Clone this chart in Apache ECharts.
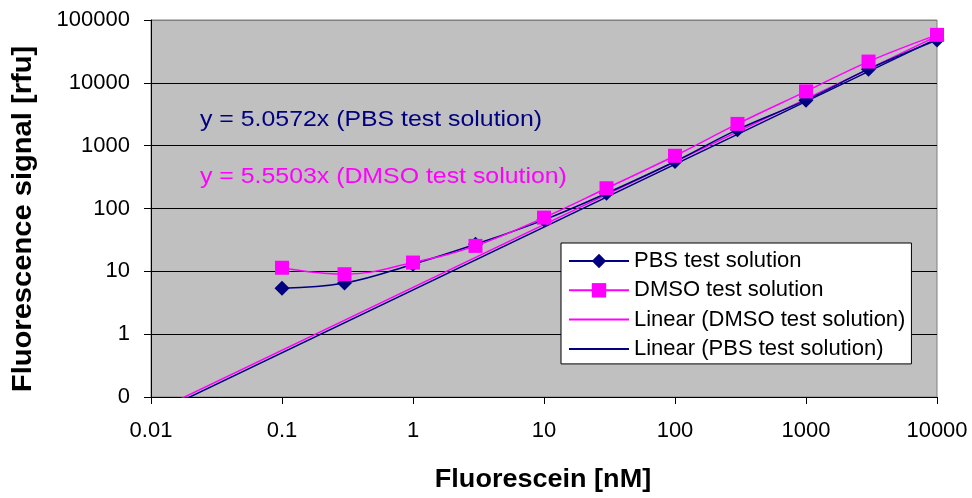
<!DOCTYPE html>
<html>
<head>
<meta charset="utf-8">
<script src="https://cdn.jsdelivr.net/npm/echarts@6/dist/echarts.min.js"></script>
<style>
html,body{margin:0;padding:0;background:#fff;}
#chart{width:972px;height:498px;}
</style>
</head>
<body>
<div id="chart"></div>
<script>
// ---- data ----
var concentrations = [0.1, 0.3, 1, 3, 10, 30, 100, 300, 1000, 3000, 10000];
var pbsSignal  = [5.4, 6.5, 13, 27, 66, 175, 560, 1800, 5300, 16500, 48000];
var dmsoSignal = [11.4, 9.0, 13.8, 25.4, 71.6, 210, 690, 2220, 7300, 21800, 58000];
var pbsSlope = 5.0572;
var dmsoSlope = 5.5503;
var trendRange = [0.01, 10000];
var xTickLabels = ['0.01', '0.1', '1', '10', '100', '1000', '10000'];
var yTickLabels = ['0', '1', '10', '100', '1000', '10000', '100000'];
var seriesNames = ['PBS test solution', 'DMSO test solution', 'Linear (DMSO test solution)', 'Linear (PBS test solution)'];
var equationTexts = ['y = 5.0572x (PBS test solution)', 'y = 5.5503x (DMSO test solution)'];
var xTitle = 'Fluorescein [nM]';
var yTitle = 'Fluorescence signal [rfu]';

var FONT = '"Liberation Sans", Arial, sans-serif';
var NAVY = '#000080', MAG = '#FF00FF';

function pairs(xs, ys) { return xs.map(function (x, i) { return [x, ys[i]]; }); }
function trend(slope) { return trendRange.map(function (x) { return [x, slope * x]; }); }

var chart = echarts.init(document.getElementById('chart'), null, {renderer: 'canvas'});
chart.setOption({
  animation: false,
  backgroundColor: '#fff',
  textStyle: {fontFamily: FONT},
  grid: {
    left: 151, top: 20, right: 35, bottom: 101,
    containLabel: false, outerBoundsMode: 'none',
    show: true, backgroundColor: '#C0C0C0', borderColor: '#808080', borderWidth: 1
  },
  xAxis: {
    type: 'log', logBase: 10, min: 0.01, max: 10000,
    axisLine: {show: true, onZero: false, lineStyle: {color: '#000', width: 1}},
    axisTick: {show: true, inside: false, length: 7, lineStyle: {color: '#000'}},
    axisLabel: {
      fontFamily: FONT, fontSize: 22, color: '#000', margin: 23,
      formatter: function (v) { return xTickLabels[Math.round(Math.log10(v)) + 2]; }
    },
    splitLine: {show: false},
    minorTick: {show: false}
  },
  yAxis: {
    type: 'log', logBase: 10, min: 0.1, max: 100000,
    axisLine: {show: true, lineStyle: {color: '#000', width: 1}},
    axisTick: {show: true, inside: false, length: 7, lineStyle: {color: '#000'}},
    axisLabel: {
      fontFamily: FONT, fontSize: 22, color: '#000', margin: 21,
      formatter: function (v) { return yTickLabels[Math.round(Math.log10(v)) + 1]; }
    },
    splitLine: {show: true, lineStyle: {color: ['#000', '#000', '#000', '#000', '#000', '#000', '#808080'], width: 1}}
  },
  legend: {
    orient: 'vertical', left: 561, top: 243,
    backgroundColor: '#fff', borderColor: '#000', borderWidth: 1,
    padding: [7, 6, 4, 7],
    itemWidth: 60, itemHeight: 18, itemGap: 7.3,
    textStyle: {fontFamily: FONT, fontSize: 22, color: '#000'},
    data: [
      {name: seriesNames[0]},
      {name: seriesNames[1]},
      {name: seriesNames[2], itemStyle: {opacity: 0}},
      {name: seriesNames[3], itemStyle: {opacity: 0}}
    ]
  },
  series: [
    {
      name: seriesNames[3], type: 'line', data: trend(pbsSlope),
      symbol: 'none', lineStyle: {color: NAVY, width: 1.5}, itemStyle: {color: NAVY}, z: 2
    },
    {
      name: seriesNames[2], type: 'line', data: trend(dmsoSlope),
      symbol: 'none', lineStyle: {color: MAG, width: 1.5}, itemStyle: {color: MAG}, z: 2
    },
    {
      name: seriesNames[0], type: 'line', data: pairs(concentrations, pbsSignal),
      smooth: 0.4, symbol: 'diamond', symbolSize: 15,
      lineStyle: {color: NAVY, width: 1.5}, itemStyle: {color: NAVY}, z: 3
    },
    {
      name: seriesNames[1], type: 'line', data: pairs(concentrations, dmsoSignal),
      smooth: 0.4, symbol: 'rect', symbolSize: 14,
      lineStyle: {color: MAG, width: 1.5}, itemStyle: {color: MAG}, z: 4
    }
  ],
  graphic: [
    {type: 'text', x: 200, y: 119.5, scaleX: 1.13, z: 10,
     style: {text: equationTexts[0], fill: NAVY, fontFamily: FONT, fontSize: 22, textAlign: 'left', textVerticalAlign: 'middle'}},
    {type: 'text', x: 200, y: 177, scaleX: 1.13, z: 10,
     style: {text: equationTexts[1], fill: MAG, fontFamily: FONT, fontSize: 22, textAlign: 'left', textVerticalAlign: 'middle'}},
    {type: 'text', x: 543, y: 480, scaleX: 1.04, z: 10,
     style: {text: xTitle, fill: '#000', fontFamily: FONT, fontSize: 26, fontWeight: 'bold', textAlign: 'center', textVerticalAlign: 'middle'}},
    {type: 'text', x: 23, y: 219, rotation: Math.PI / 2, scaleX: 1.04, z: 10,
     style: {text: yTitle, fill: '#000', fontFamily: FONT, fontSize: 28, fontWeight: 'bold', textAlign: 'center', textVerticalAlign: 'middle'}}
  ]
});
</script>
</body>
</html>
